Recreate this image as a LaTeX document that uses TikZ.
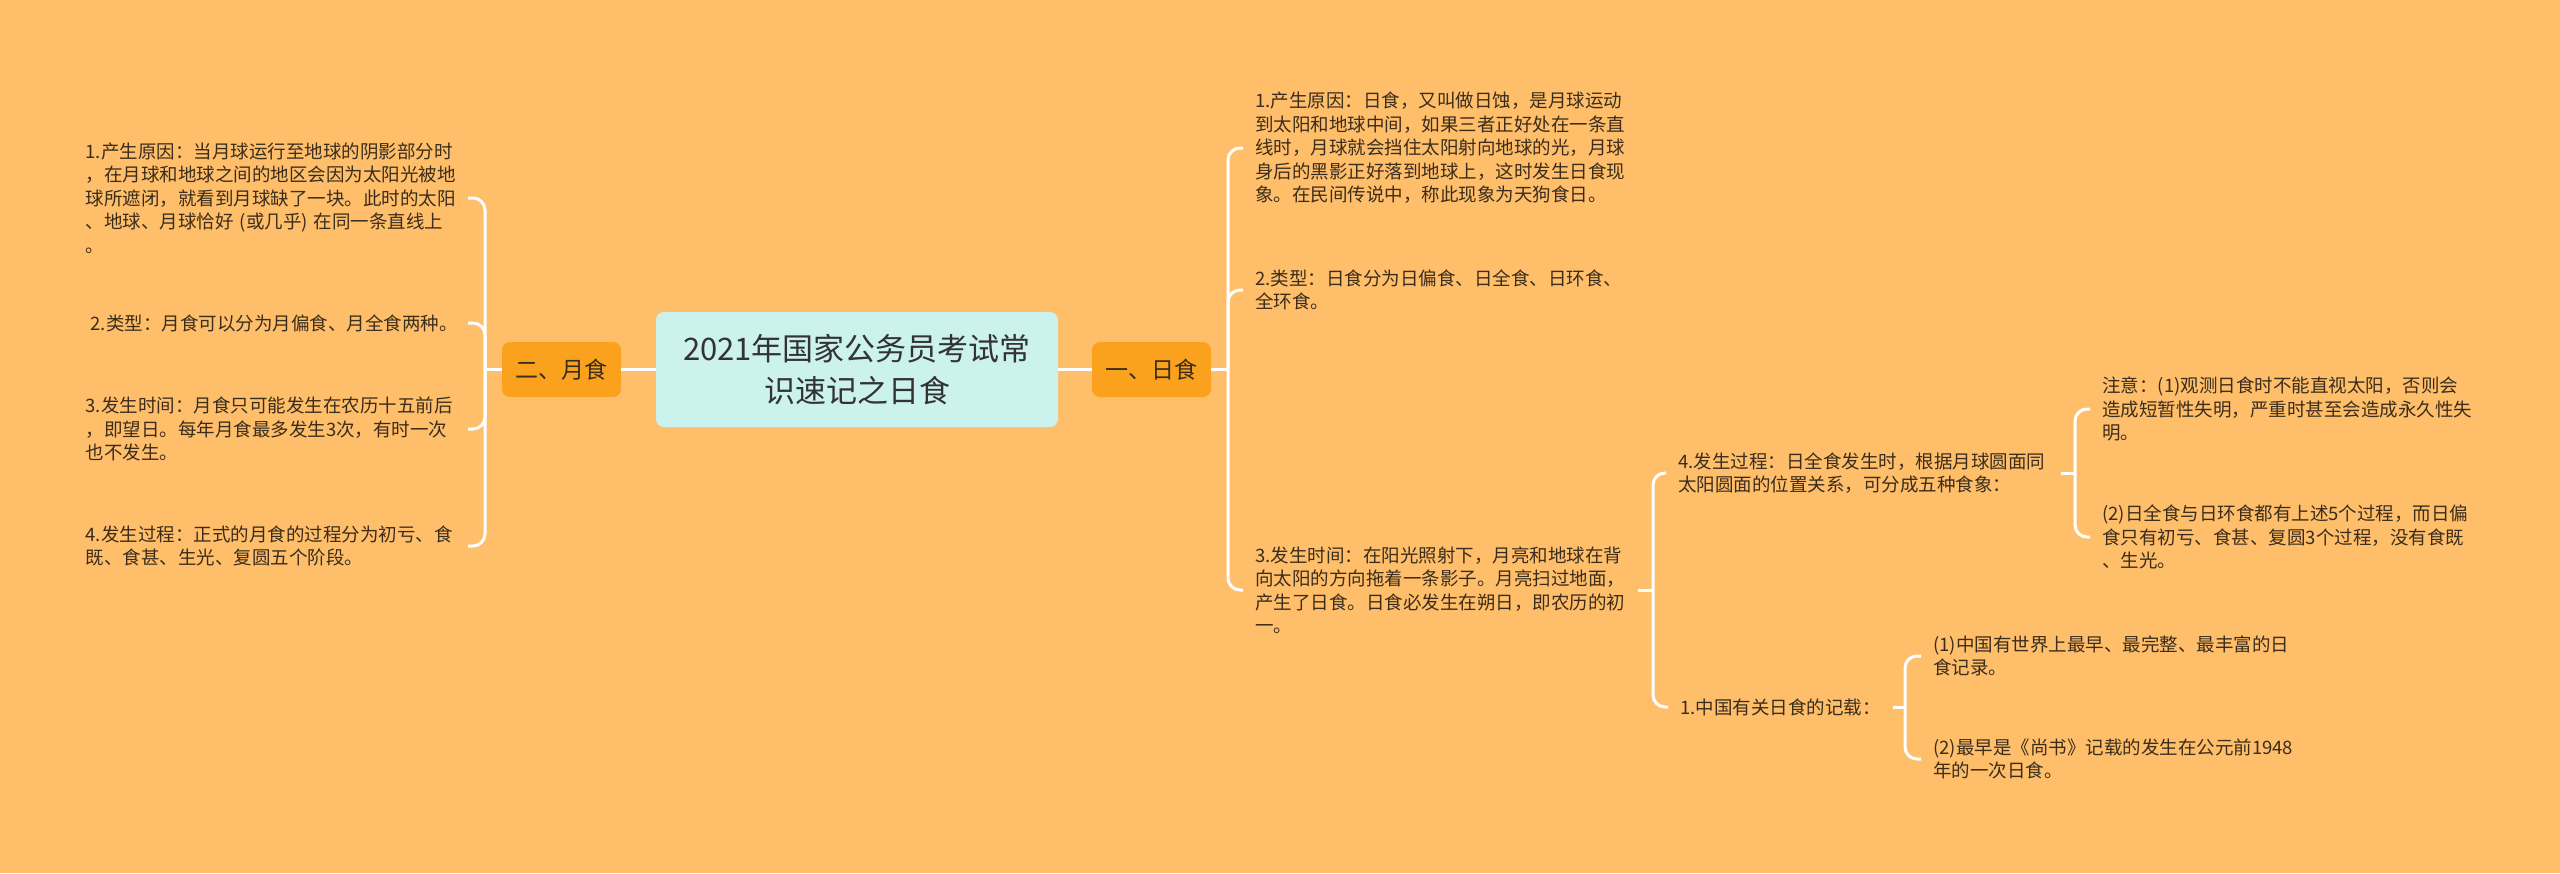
\documentclass[tikz,border=0pt]{standalone}
\usepackage{fontspec}
\setmainfont{Noto Sans CJK SC}
\usepackage{tikz}
\usetikzlibrary{positioning,calc}
\definecolor{mapbg}{HTML}{FFBE6A}
\definecolor{branchfill}{HTML}{FAA21E}
\definecolor{rootfill}{HTML}{CCF2EE}
\definecolor{ink}{HTML}{3B2D1C}
\tikzset{
  rootbox/.style={fill=rootfill,rounded corners=4pt,minimum width=201pt,minimum height=57.5pt,
    align=center,inner sep=0pt,text=black!80,font=\fontsize{15.5}{21}\selectfont},
  branchbox/.style={fill=branchfill,rounded corners=4pt,minimum width=59.5pt,minimum height=27.5pt,
    inner sep=0pt,text=ink,font=\fontsize{11.5}{14}\selectfont},
  leaf/.style={align=left,inner xsep=6pt,inner ysep=1pt,text=ink,font=\fontsize{9.25}{11.75}\selectfont},
  leafw/.style={leaf,text width=185pt},
  link/.style={draw=white,line width=1.5pt,rounded corners=6pt}, % white bracket line
}
\begin{document}
\begin{tikzpicture}[x=0.5pt,y=-0.5pt]
  \fill[mapbg] (0,0) rectangle (2560,873);
  \useasboundingbox (0,0) rectangle (2560,873);
  % ---- centre and main branches ----
  \node[rootbox] (root) at (857,369.5) {2021年国家公务员考试常\\识速记之日食};
  \node[branchbox] (yue) at (561.5,369.5) {二、月食};
  \node[branchbox] (ri) at (1151.5,369.5) {一、日食};
  \draw[link] (root.west) -- (yue.east);
  \draw[link] (root.east) -- (ri.west);
  % ---- left: 月食 ----
  \coordinate (jy) at (485,369.5);
  \node[leafw,anchor=east] (y1) at (468,198) {1.产生原因：当月球运行至地球的阴影部分时\\，在月球和地球之间的地区会因为太阳光被地\\球所遮闭，就看到月球缺了一块。此时的太阳\\、地球、月球恰好 (或几乎) 在同一条直线上\\。};
  \node[leafw,anchor=east] (y2) at (468,323) {\hspace*{2.5pt}2.类型：月食可以分为月偏食、月全食两种。};
  \node[leafw,anchor=east] (y3) at (468,429) {3.发生时间：月食只可能发生在农历十五前后\\，即望日。每年月食最多发生3次，有时一次\\也不发生。};
  \node[leafw,anchor=east] (y4) at (468,546) {4.发生过程：正式的月食的过程分为初亏、食\\既、食甚、生光、复圆五个阶段。};
  \draw[link] (yue.west) -- (jy);
  \foreach \c in {y1,y2,y3,y4} \draw[link] (jy) |- (\c.east);
  % ---- right: 日食 ----
  \coordinate (jr) at (1228,369.5);
  \node[leafw,anchor=west] (r1) at (1243,148) {1.产生原因：日食，又叫做日蚀，是月球运动\\到太阳和地球中间，如果三者正好处在一条直\\线时，月球就会挡住太阳射向地球的光，月球\\身后的黑影正好落到地球上，这时发生日食现\\象。在民间传说中，称此现象为天狗食日。};
  \node[leafw,anchor=west] (r2) at (1243,290) {2.类型：日食分为日偏食、日全食、日环食、\\全环食。};
  \node[leafw,anchor=west] (r3) at (1243,590) {3.发生时间：在阳光照射下，月亮和地球在背\\向太阳的方向拖着一条影子。月亮扫过地面，\\产生了日食。日食必发生在朔日，即农历的初\\一。};
  \draw[link] (ri.east) -- (jr);
  \foreach \c in {r1,r2,r3} \draw[link] (jr) |- (\c.west);
  % ---- under 3.发生时间 ----
  \coordinate (j3) at (1653,590);
  \node[leafw,anchor=west] (r31) at (1666,473) {4.发生过程：日全食发生时，根据月球圆面同\\太阳圆面的位置关系，可分成五种食象：};
  \node[leaf,anchor=west] (r32) at (1668,707) {1.中国有关日食的记载：};
  \draw[link] (r3.east) -- (j3);
  \foreach \c in {r31,r32} \draw[link] (j3) |- (\c.west);
  % ---- 食象 notes ----
  \coordinate (j31) at (2075,473);
  \node[leafw,anchor=west] (n1) at (2090,409) {注意：(1)观测日食时不能直视太阳，否则会\\造成短暂性失明，严重时甚至会造成永久性失\\明。};
  \node[leafw,anchor=west] (n2) at (2090,537) {(2)日全食与日环食都有上述5个过程，而日偏\\食只有初亏、食甚、复圆3个过程，没有食既\\、生光。};
  \draw[link] (r31.east) -- (j31);
  \foreach \c in {n1,n2} \draw[link] (j31) |- (\c.west);
  % ---- 记载 ----
  \coordinate (j32) at (1905,707);
  \node[leafw,anchor=west] (c1) at (1921,656) {(1)中国有世界上最早、最完整、最丰富的日\\食记录。};
  \node[leafw,anchor=west] (c2) at (1921,759) {(2)最早是《尚书》记载的发生在公元前1948\\年的一次日食。};
  \draw[link] (r32.east) -- (j32);
  \foreach \c in {c1,c2} \draw[link] (j32) |- (\c.west);
\end{tikzpicture}
\end{document}
